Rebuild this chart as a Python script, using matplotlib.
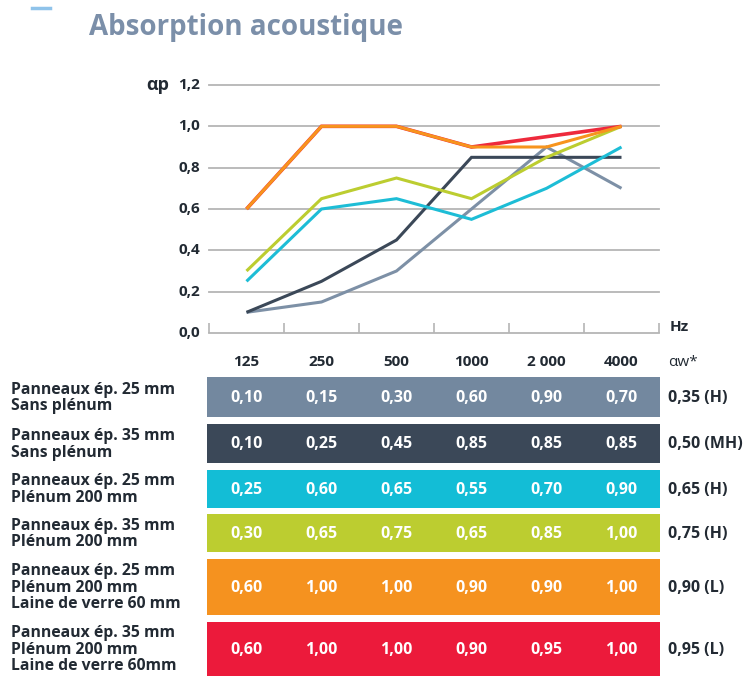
import matplotlib
matplotlib.use("Agg")
import matplotlib.pyplot as plt
from matplotlib.patches import Rectangle
from matplotlib.lines import Line2D

plt.rcParams['font.family'] = ['Open Sans', 'DejaVu Sans']

# ---- data ----
frequencies = ["125", "250", "500", "1000", "2 000", "4000"]
row_labels = [
    "Panneaux ép. 25 mm\nSans plénum",
    "Panneaux ép. 35 mm\nSans plénum",
    "Panneaux ép. 25 mm\nPlénum 200 mm",
    "Panneaux ép. 35 mm\nPlénum 200 mm",
    "Panneaux ép. 25 mm\nPlénum 200 mm\nLaine de verre 60 mm",
    "Panneaux ép. 35 mm\nPlénum 200 mm\nLaine de verre 60mm",
]
s1 = [0.10, 0.15, 0.30, 0.60, 0.90, 0.70]
s2 = [0.10, 0.25, 0.45, 0.85, 0.85, 0.85]
s3 = [0.25, 0.60, 0.65, 0.55, 0.70, 0.90]
s4 = [0.30, 0.65, 0.75, 0.65, 0.85, 1.00]
s5 = [0.60, 1.00, 1.00, 0.90, 0.90, 1.00]
s6 = [0.60, 1.00, 1.00, 0.90, 0.95, 1.00]
alpha_w = ["0,35 (H)", "0,50 (MH)", "0,65 (H)", "0,75 (H)", "0,90 (L)", "0,95 (L)"]
y_ticks = [0.0, 0.2, 0.4, 0.6, 0.8, 1.0, 1.2]

series = [s1, s2, s3, s4, s5, s6]
colors = ["#73889f", "#3b4858", "#13bdd6", "#bccd30", "#f5921f", "#ec1a3b"]
line_colors = ["#7d90a6", "#3b4858", "#1dbdd6", "#bccd30", "#f7941d", "#ee2a3c"]

W, H = 748, 686
fig = plt.figure(figsize=(W / 100, H / 100), dpi=100)

def fx(px):
    return px / W

def fy(py):
    return 1 - py / H

text_dark = "#222a33"

# small decorative mark top-left
fig.add_artist(Line2D([fx(32), fx(50)], [fy(8), fy(8)], color="#8fc3ea", lw=2.5,
                      transform=fig.transFigure))

# Title
fig.text(fx(89), fy(27), "Absorption acoustique", fontsize=20, fontweight="bold",
         color="#7b8fa9", va="center", ha="left")

# ---- chart ----
x0, x1 = 209, 659
ytop, ybot = 85, 333
ax = fig.add_axes([fx(x0), fy(ybot), fx(x1) - fx(x0), (ybot - ytop) / H])
ax.set_xlim(0, 6)
ax.set_ylim(0, 1.2)
for sp in ax.spines.values():
    sp.set_visible(False)
for yv in y_ticks:
    ax.axhline(yv, color="#b5b5b5", lw=1.3, zorder=1, clip_on=False)
ax.set_xticks(range(7))
ax.set_xticklabels([])
ax.tick_params(axis="x", direction="in", length=7, width=1.2, color="#b5b5b5")
ax.set_yticks([])
for yv in y_ticks:
    ax.text(-0.12, yv, f"{yv:.1f}".replace(".", ","), ha="right", va="center",
            fontsize=11, fontweight="bold", color=text_dark, clip_on=False)
ax.text(-0.68, 1.2, "αp", ha="center", va="center", fontsize=13, fontweight="bold",
        color=text_dark, clip_on=False)
ax.text(6.14, 0.03, "Hz", ha="left", va="center", fontsize=11, fontweight="bold",
        color=text_dark, clip_on=False)

xs = [i + 0.5 for i in range(len(frequencies))]
order = [0, 1, 2, 3, 5, 4]
widths = [2.2, 2.2, 2.2, 2.2, 2.2, 2.6]
for k in order:
    ax.plot(xs, series[k], color=line_colors[k], lw=widths[k], zorder=3,
            solid_capstyle="butt", solid_joinstyle="miter")

# ---- table ----
tab = fig.add_axes([fx(x0), 0, fx(x1) - fx(x0), fy(345)])
tab.set_xlim(0, 6)
tab.set_ylim(H, 345)
tab.axis("off")

px_per_col = (x1 - x0) / 6.0

def cx(px):
    return (px - x0) / px_per_col

for i, f in enumerate(frequencies):
    tab.text(i + 0.5, 362, f, ha="center", va="center", fontsize=11, fontweight="bold",
             color=text_dark)
tab.text(cx(668), 362, "αw*", ha="left", va="center", fontsize=11, color=text_dark, clip_on=False)

row_bounds = [(377, 417), (424, 463), (470, 507.5), (514, 552), (558.5, 615), (621.5, 676)]
for r, (top, bot) in enumerate(row_bounds):
    tab.add_patch(Rectangle((cx(207), top), cx(660) - cx(207), bot - top,
                            facecolor=colors[r], edgecolor="none", clip_on=False))
    mid = (top + bot) / 2
    for i, v in enumerate(series[r]):
        tab.text(i + 0.5, mid + 1, f"{v:.2f}".replace(".", ","), ha="center", va="center",
                 fontsize=11.5, fontweight="bold", color="white")
    tab.text(cx(668), mid + 1, alpha_w[r], ha="left", va="center", fontsize=11.5,
             fontweight="bold", color=text_dark, clip_on=False)
    tab.text(cx(11), mid + 1, row_labels[r], ha="left", va="center", fontsize=11.3,
             fontweight="bold", color=text_dark, linespacing=1.05, clip_on=False)

fig.savefig("out.png", dpi=100)
